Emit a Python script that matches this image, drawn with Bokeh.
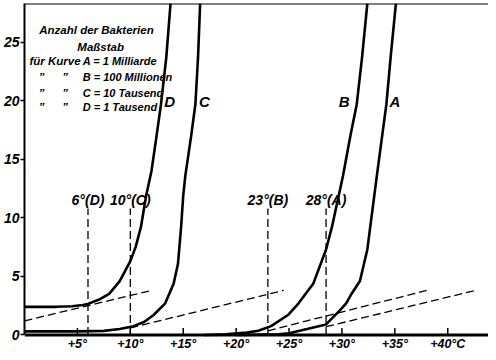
import math
from bokeh.plotting import figure
from bokeh.models import Span, FixedTicker, LabelSet, ColumnDataSource
from bokeh.core.properties import value
from bokeh.embed import file_html
from bokeh.resources import INLINE

# ---- data ----
curve_names = ["A", "B", "C", "D"]
curve_A_x = [20, 24, 25, 26.7, 28.5, 29.8, 30.4, 30.9, 31.7, 32.4, 32.9, 33.3, 33.8, 34.2, 34.6, 35.1]
curve_A_y = [0.0, 0.05, 0.15, 0.5, 0.9, 2.1, 2.7, 3.5, 4.6, 7.3, 10.8, 13.6, 17.0, 19.7, 23.7, 28.3]
curve_B_x = [17, 19, 21, 22.1, 23.3, 24.9, 25.9, 27.3, 28.5, 29.05, 29.7, 30.1, 30.8, 31.4, 31.9, 32.4]
curve_B_y = [0.0, 0.05, 0.2, 0.35, 0.75, 1.7, 2.7, 4.4, 7.3, 9.2, 11.9, 13.6, 17.0, 19.7, 23.7, 28.3]
curve_C_x = [0, 5, 7.5, 9, 10.3, 11.3, 12.2, 13.3, 14.1, 14.5, 14.8, 15.0, 15.2, 15.75, 16.15, 16.4, 16.6]
curve_C_y = [0.3, 0.3, 0.35, 0.5, 0.75, 1.1, 1.7, 2.7, 4.4, 6.05, 9.2, 11.9, 13.6, 17.0, 19.7, 23.7, 28.3]
curve_D_x = [0, 3, 4.5, 5.5, 6, 7, 8, 9, 10, 10.5, 11, 11.5, 12.0, 12.45, 12.9, 13.4, 13.8]
curve_D_y = [2.4, 2.4, 2.45, 2.55, 2.65, 3.0, 3.5, 4.6, 6.3, 7.5, 9.2, 11.9, 14.0, 16.8, 19.7, 23.7, 28.3]

tangent_x = [[0, 12], [10, 24.5], [23, 38], [28.5, 42.6]]
tangent_y = [[1.2, 3.8], [0.6, 3.8], [0.35, 3.8], [0.7, 3.8]]

marker_temps = [6, 10, 23, 28.5]
marker_tops = [10.8, 10.8, 10.8, 10.8]
marker_labels = ["6°(D)", "10°(C)", "23°(B)", "28°(A)"]

x_ticks = [5, 10, 15, 20, 25, 30, 35, 40]
x_tick_labels = ["+5°", "+10°", "+15°", "+20°", "+25°", "+30°", "+35°", "+40°C"]
y_ticks = [0, 5, 10, 15, 20, 25]

legend_title = ["Anzahl der Bakterien", "Maßstab"]
legend_lead = ["für Kurve", "\u201d", "\u201d", "\u201d"]
legend_items = ["A = 1 Milliarde", "B = 100 Millionen", "C = 10 Tausend", "D = 1 Tausend"]

FONT = "Liberation Sans"

p = figure(width=488, height=352, x_range=(0, 43.85), y_range=(-1.5, 28.3),
           output_backend="svg", toolbar_location=None,
           min_border_left=20, min_border_top=3, min_border_bottom=0, min_border_right=0)
p.grid.visible = False
p.outline_line_color = None
p.background_fill_color = "white"
p.border_fill_color = "white"

# x axis drawn inside the frame at y = 0 (line, inward ticks, labels below)
p.below = []
p.add_layout(Span(location=0, dimension="width", line_color="black", line_width=3))
p.ray(x=x_ticks, y=[0] * len(x_ticks), length=7, length_units="screen",
      angle=math.pi / 2, line_color="black", line_width=1.5)
tick_src = ColumnDataSource(dict(x=x_ticks, y=[0] * len(x_ticks), t=x_tick_labels))
p.add_layout(LabelSet(x="x", y="y", text="t", source=tick_src, y_offset=-2,
                      text_font=value(FONT), text_font_style="bold italic",
                      text_font_size="12.5px", text_align="center",
                      text_baseline="top", text_color="black"))

# y axis
p.yaxis.ticker = FixedTicker(ticks=y_ticks)
p.yaxis.bounds = (0, 28.3)
p.yaxis.major_tick_in = 0
p.yaxis.major_tick_out = 4
p.yaxis.minor_tick_line_color = None
p.yaxis.axis_line_width = 2
p.yaxis.major_tick_line_width = 1.5
p.yaxis.major_label_standoff = 1
p.yaxis.major_label_text_font = FONT
p.yaxis.major_label_text_font_style = "bold italic"
p.yaxis.major_label_text_font_size = "14px"
p.yaxis.major_label_text_color = "black"
p.yaxis.axis_line_color = "black"
p.yaxis.major_tick_line_color = "black"

# top border
p.add_layout(Span(location=28.3, dimension="width", line_color="black", line_width=2))

# tangent (dashed) lines
p.multi_line(tangent_x, tangent_y, line_color="black", line_width=1.3, line_dash="8 4")
# vertical dashed markers
p.segment(x0=marker_temps, y0=[0] * 4, x1=marker_temps, y1=marker_tops,
          line_color="black", line_width=1.3, line_dash="8 4")
p.text(x=marker_temps, y=[11.5] * 4, text=marker_labels, text_font=value(FONT),
       text_font_style="bold italic", text_font_size="14px", text_align="center",
       text_baseline="middle", text_color="black")

# curves
for cx, cy in [(curve_A_x, curve_A_y), (curve_B_x, curve_B_y),
               (curve_C_x, curve_C_y), (curve_D_x, curve_D_y)]:
    p.line(cx, cy, line_color="black", line_width=2.6)

# curve letters
p.text(x=[34.5, 29.7, 16.5, 13.2], y=[19.9] * 4, text=curve_names, text_font=value(FONT),
       text_font_style="bold italic", text_font_size="15px", text_align="left",
       text_baseline="middle", text_color="black")

# legend block
TS = "11.5px"
p.text(x=[6.8, 7.2], y=[26.0, 24.6], text=legend_title, text_font=value(FONT),
       text_font_style="bold italic", text_font_size=TS, text_align="center",
       text_baseline="middle", text_color="black")
p.text(x=[5.3, 1.9, 1.9, 1.9], y=[23.4, 22.0, 20.7, 19.5], text=legend_lead, text_font=value(FONT),
       text_font_style="bold italic", text_font_size=TS, text_align="right",
       text_baseline="middle", text_color="black")
p.text(x=[4.1, 4.1, 4.1], y=[22.0, 20.7, 19.5], text=legend_lead[1:], text_font=value(FONT),
       text_font_style="bold italic", text_font_size=TS, text_align="right",
       text_baseline="middle", text_color="black")
p.text(x=[5.5] * 4, y=[23.4, 22.0, 20.7, 19.5], text=legend_items, text_font=value(FONT),
       text_font_style="bold italic", text_font_size="11px", text_align="left",
       text_baseline="middle", text_color="black")

open("out.html", "w").write(file_html(p, INLINE))
